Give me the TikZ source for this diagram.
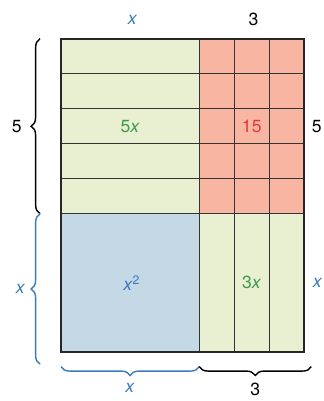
\documentclass[tikz,border=0pt]{standalone}
\usepackage{fontspec}
\setmainfont{TeX Gyre Heros}
\usepackage{xcolor}
\usetikzlibrary{decorations.pathreplacing,calc}

\definecolor{tilegreen}{HTML}{E9EFD1}
\definecolor{tilered}{HTML}{F8B5A2}
\definecolor{tileblue}{HTML}{C4D8E6}
\definecolor{txtgreen}{HTML}{3E9A4C}
\definecolor{txtred}{HTML}{E03A3E}
\definecolor{txtblue}{HTML}{3A7BBE}

\begin{document}
\begin{tikzpicture}[x=0.7cm,y=0.7cm,
  cell/.style={draw=black!80,line width=0.6pt},
  rim/.style={draw=black!85,line width=1.1pt},
  brace/.style={decorate,decoration={brace,amplitude=5pt},line width=0.8pt},
  lbl/.style={font=\fontsize{10}{11}\selectfont,inner sep=1pt}]
  \useasboundingbox (-1.743,-1.4) rectangle (7.486,10.057);
  \def\X{3.95}
  % corners of the big rectangle
  \coordinate (sw) at (0,0);
  \coordinate (mid) at (\X,\X);
  \coordinate (ne) at (\X+3,\X+5);
  % tiles
  \fill[tileblue] (sw) rectangle (mid);
  \fill[tilegreen] (0,\X) rectangle (\X,\X+5);
  \fill[tilegreen] (\X,0) rectangle (\X+3,\X);
  \fill[tilered] (mid) rectangle (ne);
  \foreach \i in {1,...,4}
    \draw[cell] (0,\X+\i) -- (\X+3,\X+\i);
  \foreach \i in {1,2}
    \draw[cell] (\X+\i,0) -- (\X+\i,\X+5);
  \draw[cell] (\X,0) -- (\X,\X+5);
  \draw[cell] (0,\X) -- (\X+3,\X);
  \draw[rim] (sw) rectangle (ne);
  % labels in the tiles
  \node[lbl,txtgreen] (t5x) at (\X/2,\X+2.5) {5\textit{x}};
  \node[lbl,txtred] (t15) at (\X+1.5,\X+2.5) {15};
  \node[lbl,txtblue] (tx2) at (\X/2+0.05,\X/2) {\textit{x}\textsuperscript{2}};
  \node[lbl,txtgreen] (t3x) at (\X+1.5,\X/2) {3\textit{x}};
  % side lengths
  \node[lbl,txtblue] (topx) at (\X/2+0.07,\X+5.55) {\textit{x}};
  \node[lbl] (top3) at (\X+1.55,\X+5.55) {3};
  \node[lbl] (right5) at (\X+3.36,\X+2.5) {5};
  \node[lbl,txtblue] (rightx) at (\X+3.38,\X/2) {\textit{x}};
  % braces
  \coordinate (lb1) at (-0.6,\X);
  \coordinate (lb2) at (-0.6,\X+5);
  \coordinate (lb3) at (-0.6,-0.35);
  \draw[brace] (lb1) -- (lb2) node[lbl,midway,left=9pt] (left5) {5};
  \draw[brace,txtblue] (lb3) -- (lb1) node[lbl,midway,left=7pt] (leftx) {\textit{x}};
  \coordinate (bb1) at (0,-0.42);
  \coordinate (bb2) at (\X,-0.42);
  \coordinate (bb3) at (\X+3.2,-0.42);
  \draw[brace,txtblue,decoration={mirror}] (bb1) -- (bb2) node[lbl,midway,below=8pt] (botx) {\textit{x}};
  \draw[brace,decoration={mirror}] (bb2) -- (bb3) node[lbl,midway,below=8pt] (bot3) {3};
\end{tikzpicture}
\end{document}
